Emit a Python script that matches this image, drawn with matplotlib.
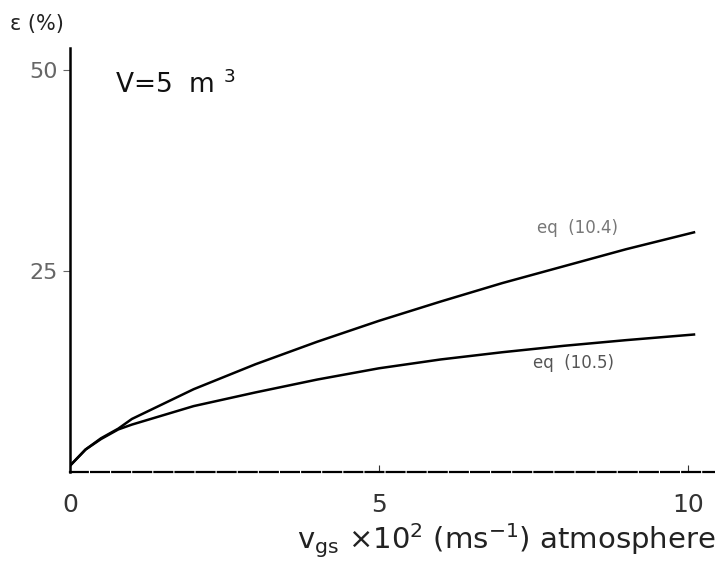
import matplotlib.pyplot as plt

# velocity x 10^2 (m/s)
vgs = [0, 0.25, 0.5, 0.78, 1, 2, 3, 4, 5, 6, 7, 8, 9, 10.1]
# gas hold-up (%)
eq_10_4 = [0.8, 2.8, 4.2, 5.4, 6.6, 10.3, 13.4, 16.2, 18.8, 21.2, 23.5, 25.6, 27.7, 29.8]
eq_10_5 = [0.8, 2.8, 4.1, 5.3, 5.9, 8.2, 9.9, 11.5, 12.9, 14.0, 14.9, 15.7, 16.4, 17.1]

xticks = [0, 5, 10]
yticks = [25, 50]

fig = plt.figure(figsize=(7.15, 5.62), dpi=100)
ax = fig.add_axes([0.098, 0.16, 0.902, 0.7544])

ax.plot(vgs, eq_10_4, color='black', lw=1.8)
ax.plot(vgs, eq_10_5, color='black', lw=1.8)

ax.set_xlim(0, 10.44)
ax.set_ylim(0, 52.7)

for s in ['top', 'right']:
    ax.spines[s].set_visible(False)
ax.spines['left'].set_linewidth(1.8)
ax.spines['bottom'].set_linewidth(1.6)
ax.spines['bottom'].set_linestyle((0, (8, 1.5)))

ax.set_xticks(xticks)
ax.set_yticks(yticks)
ax.tick_params(axis='x', direction='in', length=5, labelsize=18, pad=15, colors='#333333')
ax.tick_params(axis='y', direction='out', length=5, labelsize=16, colors='#666666', pad=4)

ax.text(-0.97, 55.7, 'ε (%)', fontsize=15, color='#222222', ha='left', va='center', clip_on=False)
ax.text(0.72, 48.1, 'V=5  m $^3$', fontsize=19, color='#111111', va='center')
ax.text(7.56, 30.4, 'eq  (10.4)', fontsize=12, color='#777777', va='center')
ax.text(7.49, 13.5, 'eq  (10.5)', fontsize=12, color='#555555', va='center')

ax.set_xlabel('v$_{\\rm gs}$ ×10$^2$ (ms$^{-1}$) atmosphere', fontsize=21,
              color='#222222', loc='right', labelpad=3)

fig.savefig('out.png', dpi=100)
